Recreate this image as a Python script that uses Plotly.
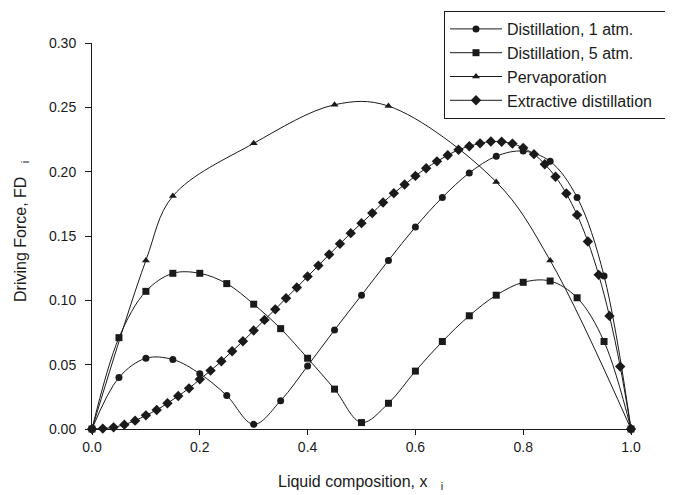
import plotly.graph_objects as go

# ---- data ----
x_d1 = [0.0, 0.05, 0.10, 0.15, 0.20, 0.25, 0.30, 0.35, 0.40, 0.45, 0.50,
        0.55, 0.60, 0.65, 0.70, 0.75, 0.80, 0.85, 0.90, 0.95, 1.0]
y_d1 = [0.0, 0.040, 0.055, 0.054, 0.043, 0.026, 0.0036, 0.022, 0.049, 0.077, 0.104,
        0.131, 0.157, 0.180, 0.199, 0.212, 0.216, 0.208, 0.180, 0.119, 0.0]

x_d5 = [0.0, 0.05, 0.10, 0.15, 0.20, 0.25, 0.30, 0.35, 0.40, 0.45, 0.50,
        0.55, 0.60, 0.65, 0.70, 0.75, 0.80, 0.85, 0.90, 0.95, 1.0]
y_d5 = [0.0, 0.071, 0.107, 0.121, 0.121, 0.113, 0.097, 0.078, 0.055, 0.031, 0.005,
        0.020, 0.045, 0.068, 0.088, 0.104, 0.114, 0.115, 0.102, 0.068, 0.0]

x_pv = [0.0, 0.10, 0.15, 0.30, 0.45, 0.55, 0.75, 0.85, 1.0]
y_pv = [0.0, 0.131, 0.181, 0.222, 0.252, 0.251, 0.192, 0.131, 0.0]

x_ed = [0.00, 0.02, 0.04, 0.06, 0.08, 0.10, 0.12, 0.14, 0.16, 0.18,
        0.20, 0.22, 0.24, 0.26, 0.28, 0.30, 0.32, 0.34, 0.36, 0.38,
        0.40, 0.42, 0.44, 0.46, 0.48, 0.50, 0.52, 0.54, 0.56, 0.58,
        0.60, 0.62, 0.64, 0.66, 0.68, 0.70, 0.72, 0.74, 0.76, 0.78,
        0.80, 0.82, 0.84, 0.86, 0.88, 0.90, 0.92, 0.94, 0.96, 0.98, 1.00]
y_ed = [0.0, 0.0003, 0.0013, 0.0034, 0.0065, 0.0106, 0.0148, 0.0200, 0.0257, 0.0316,
        0.0386, 0.0454, 0.0526, 0.0604, 0.0682, 0.0765, 0.0848, 0.0930, 0.1016, 0.1100,
        0.1185, 0.1270, 0.1356, 0.1439, 0.1522, 0.1600, 0.1678, 0.1760, 0.1833, 0.1900,
        0.1967, 0.2027, 0.2080, 0.2128, 0.2170, 0.2198, 0.2220, 0.2234, 0.2232, 0.2218,
        0.2185, 0.2136, 0.2058, 0.1960, 0.1830, 0.1664, 0.1457, 0.1198, 0.0879, 0.0485, 0.0]

x_ticks = [0.0, 0.2, 0.4, 0.6, 0.8, 1.0]
y_ticks = [0.00, 0.05, 0.10, 0.15, 0.20, 0.25, 0.30]

names = ["Distillation, 1 atm.", "Distillation, 5 atm.", "Pervaporation", "Extractive distillation"]

FONT = "Liberation Sans, Arial, sans-serif"
INK = "#1a1a1a"
PAD = "\u00a0\u00a0\u00a0"  # right padding inside the legend box

fig = go.Figure()
series = [
    (x_d1, y_d1, "circle", 7),
    (x_d5, y_d5, "square", 7),
    (x_pv, y_pv, "triangle-up", 7),
    (x_ed, y_ed, "diamond", 8),
]
for (xs, ys, sym, sz), nm in zip(series, names):
    fig.add_trace(go.Scatter(
        x=xs, y=ys, name=nm + PAD, mode="lines+markers",
        line=dict(color=INK, width=1, shape="spline", smoothing=1.0),
        marker=dict(symbol=sym, size=sz, color=INK, line=dict(width=0)),
        cliponaxis=False,
    ))

# page has an 8px body margin: compensate so the plot area lands at x 92..631, y 43..429
OFF = 8
W, H = 673 - OFF, 495 - OFF
L, T = 92 - OFF, 43 - OFF
PW, PH = 539, 386

fig.update_layout(
    width=W, height=H,
    margin=dict(l=L, r=W - L - PW, t=T, b=H - T - PH, autoexpand=False),
    paper_bgcolor="white", plot_bgcolor="white",
    font=dict(family=FONT, size=14, color=INK),
    showlegend=True,
    legend=dict(
        x=(444 - 92) / PW, y=(429 - 11) / PH, xanchor="left", yanchor="top",
        bordercolor=INK, borderwidth=1, bgcolor="white",
        font=dict(size=16, family=FONT, color=INK),
        itemwidth=52, tracegroupgap=0,
    ),
    xaxis=dict(
        range=[0, 1], tickvals=x_ticks, ticktext=[f"{v:.1f}" for v in x_ticks],
        showline=True, linecolor=INK, linewidth=1, ticks="outside", ticklen=5,
        tickcolor=INK, showgrid=False, zeroline=False, tickfont=dict(size=14),
    ),
    yaxis=dict(
        range=[0, 0.30], tickvals=y_ticks, ticktext=[f"{v:.2f}" for v in y_ticks],
        showline=True, linecolor=INK, linewidth=1, ticks="outside", ticklen=6,
        tickcolor=INK, showgrid=False, zeroline=False, tickfont=dict(size=14),
        ticklabelstandoff=6,
    ),
    annotations=[
        dict(text="Liquid composition, x\u00a0\u00a0\u00a0<sub>i</sub>", xref="paper", yref="paper",
             x=(360 - 92) / PW, y=(429 - 482) / PH, xanchor="center", yanchor="middle",
             showarrow=False, font=dict(size=16, family=FONT, color=INK)),
        dict(text="Driving Force, FD\u00a0\u00a0\u00a0<sub>i</sub>", xref="paper", yref="paper",
             x=(21 - 92) / PW, y=(429 - 232) / PH, xanchor="center", yanchor="middle",
             textangle=-90, showarrow=False, font=dict(size=16, family=FONT, color=INK)),
    ],
)

fig.write_html("out.html")
